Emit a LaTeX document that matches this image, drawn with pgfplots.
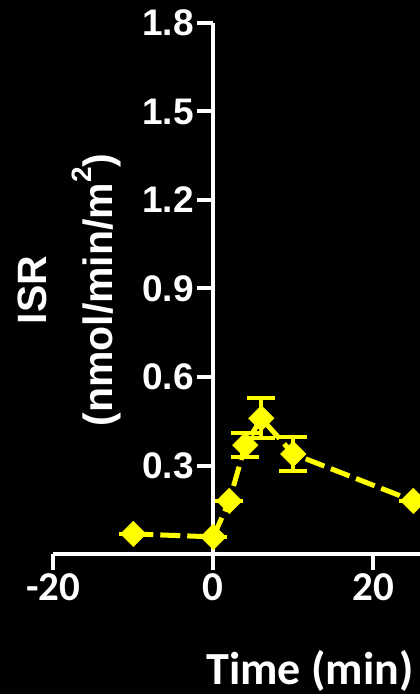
\documentclass[border=0pt]{standalone}
\usepackage{fontspec}
\setmainfont{Liberation Sans}
\newfontfamily\carlito{Carlito}
\usepackage{pgfplots}
\pgfplotsset{compat=1.18}
\definecolor{ylw}{RGB}{255,255,0}
\begin{document}
\begin{tikzpicture}
\fill[black] (-213.3pt,-140pt) rectangle (206.7pt,554pt);
\begin{axis}[
  at={(0pt,0pt)}, anchor=origin,
  x=8pt, y=295pt,
  xmin=-20, xmax=30, ymin=0, ymax=1.8,
  axis x line=bottom, axis y line=center,
  axis line style={-, line width=4pt, white},
  every tick/.style={white, line width=4pt},
  major tick length=16pt,
  tick align=outside,
  xtick={-20,0,20},
  xticklabels={-20,0,20},
  ytick={0.3,0.6,0.9,1.2,1.5,1.8},
  yticklabels={0.3,0.6,0.9,1.2,1.5,1.8},
  yticklabel style={font=\bfseries\fontsize{37}{37}\selectfont, text=white},
  xticklabel style={font=\carlito\bfseries\fontsize{41}{41}\selectfont, text=white},
]
\addplot[ylw, line width=5pt, dash pattern=on 20pt off 7pt,
  mark=square*, mark size=9pt,
  mark options={solid, rotate=45, fill=ylw, draw=ylw, line width=0.5pt},
  error bars/.cd, y dir=both, y explicit,
  error bar style={solid, line width=4pt, ylw},
  error mark options={rotate=90, mark size=14pt, line width=4pt, solid, ylw}]
coordinates {
  (-10,0.068) +- (0,0)
  (0,0.058) +- (0,0)
  (2,0.180) +- (0,0)
  (4,0.369) +- (0,0.041)
  (6,0.460) +- (0,0.068)
  (10,0.339) +- (0,0.059)
  (25,0.180) +- (0,0)
};
\end{axis}
\node[rotate=90, text=white, align=center, font=\bfseries\fontsize{41}{66}\selectfont] at (-144.3pt,264pt) {ISR\\(nmol/min/m\raisebox{0.5em}{\fontsize{28}{28}\selectfont 2})};
\node[anchor=base, text=white, font=\carlito\bfseries\fontsize{46}{46}\selectfont] at (96.7pt,-130pt) {Time (min)};
\pgfresetboundingbox
\path[use as bounding box] (-213.3pt,-140pt) rectangle (206.7pt,554pt);
\end{tikzpicture}
\end{document}
